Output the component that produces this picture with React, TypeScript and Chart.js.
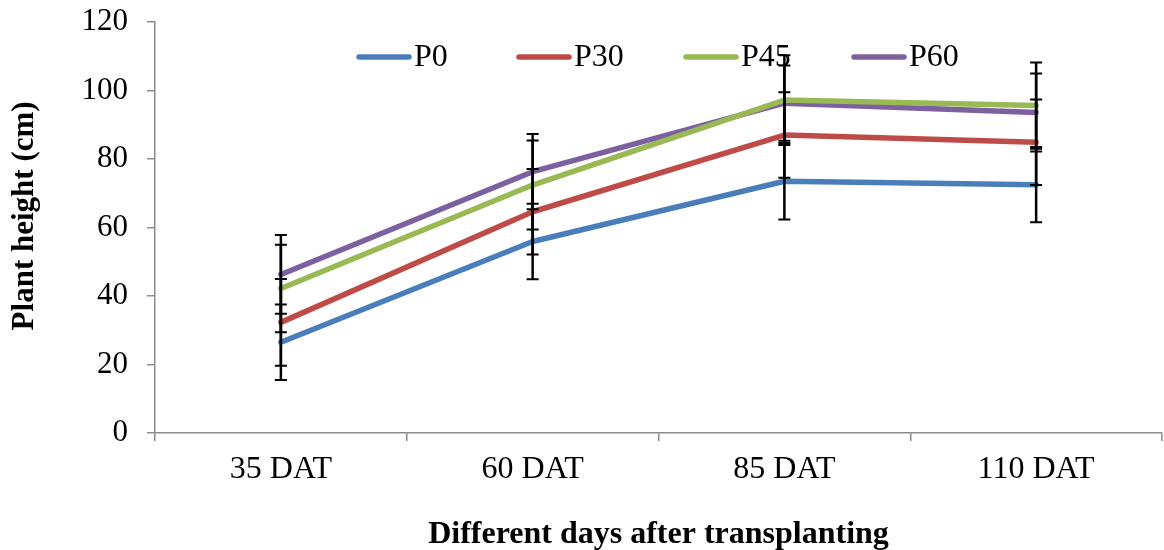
import React, { useEffect, useRef } from "react";
import { Chart, registerables } from "chart.js";

Chart.register(...registerables);

const categories = ["35 DAT", "60 DAT", "85 DAT", "110 DAT"];
const seriesNames = ["P0", "P30", "P45", "P60"];
const seriesColors = ["#4a7ebb", "#be4b48", "#98b954", "#7d60a0"];
const p0Values = [26.5, 55.9, 73.5, 72.5];
const p30Values = [32.3, 64.6, 87.0, 84.9];
const p45Values = [42.2, 72.4, 97.2, 95.6];
const p60Values = [46.3, 76.3, 96.3, 93.6];
const p0Errors = [11.0, 11.0, 11.2, 11.0];
const p30Errors = [12.7, 12.5, 12.5, 12.5];
const p45Errors = [12.8, 13.0, 13.1, 12.6];
const p60Errors = [11.5, 11.0, 11.0, 11.4];
const yTicks = [0, 20, 40, 60, 80, 100, 120];

const allValues = [p0Values, p30Values, p45Values, p60Values];
const allErrors = [p0Errors, p30Errors, p45Errors, p60Errors];

const SERIF = "'Liberation Serif', 'Times New Roman', serif";

const errorBarPlugin = {
  id: "errorBars",
  afterDatasetsDraw(chart: any) {
    const ctx = chart.ctx;
    const xs = chart.scales.x;
    const ys = chart.scales.y;
    ctx.save();
    ctx.strokeStyle = "#000";
    ctx.lineCap = "butt";
    allValues.forEach((vals, i) => {
      vals.forEach((v, j) => {
        const e = allErrors[i][j];
        const x = xs.getPixelForValue(j);
        const yt = ys.getPixelForValue(v + e);
        const yb = ys.getPixelForValue(v - e);
        ctx.lineWidth = 2.5;
        ctx.beginPath();
        ctx.moveTo(x, yt);
        ctx.lineTo(x, yb);
        ctx.stroke();
        ctx.lineWidth = 2;
        ctx.beginPath();
        ctx.moveTo(x - 6, yt);
        ctx.lineTo(x + 6, yt);
        ctx.moveTo(x - 6, yb);
        ctx.lineTo(x + 6, yb);
        ctx.stroke();
      });
    });
    ctx.restore();
  },
};

const legendStarts = [356, 516, 683, 851];

const customLegendPlugin = {
  id: "customLegend",
  beforeDatasetsDraw(chart: any) {
    const ctx = chart.ctx;
    ctx.save();
    chart.data.datasets.forEach((ds: any, i: number) => {
      const x0 = legendStarts[i];
      const y = 57;
      ctx.strokeStyle = ds.borderColor;
      ctx.lineWidth = 5.5;
      ctx.lineCap = "round";
      ctx.beginPath();
      ctx.moveTo(x0 + 3, y);
      ctx.lineTo(x0 + 53, y);
      ctx.stroke();
      ctx.fillStyle = "#000";
      ctx.font = `32px ${SERIF}`;
      ctx.textBaseline = "middle";
      ctx.textAlign = "left";
      ctx.fillText(ds.label, x0 + 58, y + 1);
    });
    ctx.restore();
  },
};

export default function App() {
  const canvasRef = useRef<HTMLCanvasElement | null>(null);

  useEffect(() => {
    if (!canvasRef.current) return;
    const chart = new Chart(canvasRef.current, {
      type: "line",
      data: {
        labels: categories,
        datasets: seriesNames.map((name, i) => ({
          label: name,
          data: allValues[i],
          borderColor: seriesColors[i],
          backgroundColor: seriesColors[i],
          borderWidth: 5.5,
          borderCapStyle: "round",
          borderJoinStyle: "round",
          pointRadius: 0,
          pointHoverRadius: 0,
          tension: 0,
          fill: false,
        })),
      },
      options: {
        responsive: false,
        animation: false,
        layout: { padding: { top: 22, right: 2, left: 0, bottom: 0 } },
        plugins: {
          legend: { display: false },
          tooltip: { enabled: false },
        },
        scales: {
          x: {
            type: "category",
            offset: true,
            grid: {
              offset: true,
              drawOnChartArea: false,
              drawTicks: true,
              tickLength: 8,
              color: "#8c8c8c",
              lineWidth: 1.5,
            },
            border: { color: "#8c8c8c", width: 1.5 },
            ticks: {
              color: "#000",
              font: { family: SERIF, size: 32 },
              padding: 9,
              maxRotation: 0,
              autoSkip: false,
            },
            title: {
              display: true,
              text: "Different days after transplanting",
              color: "#000",
              font: { family: SERIF, size: 32, weight: "bold", lineHeight: 0.95 },
              padding: { top: 0, bottom: 0 },
            },
            afterFit(scale: any) {
              scale.height = 117;
              scale.paddingLeft = 0;
              scale.paddingRight = 0;
            },
          },
          y: {
            min: 0,
            max: 120,
            afterBuildTicks(scale: any) {
              scale.ticks = yTicks.map((v) => ({ value: v }));
            },
            grid: {
              drawOnChartArea: false,
              drawTicks: true,
              tickLength: 8,
              color: "#8c8c8c",
              lineWidth: 1.5,
            },
            border: { color: "#8c8c8c", width: 1.5 },
            ticks: {
              color: "#000",
              font: { family: SERIF, size: 31 },
              padding: 19,
            },
            title: {
              display: true,
              text: "   Plant height (cm)",
              color: "#000",
              font: { family: SERIF, size: 31, weight: "bold" },
              padding: { top: 6, bottom: 0 },
            },
            afterFit(scale: any) {
              scale.width = 155;
              scale.paddingTop = 0;
              scale.paddingBottom = 0;
            },
          },
        },
      },
      plugins: [customLegendPlugin, errorBarPlugin],
    } as any);
    return () => chart.destroy();
  }, []);

  return (
    <div style={{ position: "absolute", left: 0, top: 0, width: 1164, height: 550, background: "#fff" }}>
      <canvas ref={canvasRef} width={1164} height={550} />
    </div>
  );
}
